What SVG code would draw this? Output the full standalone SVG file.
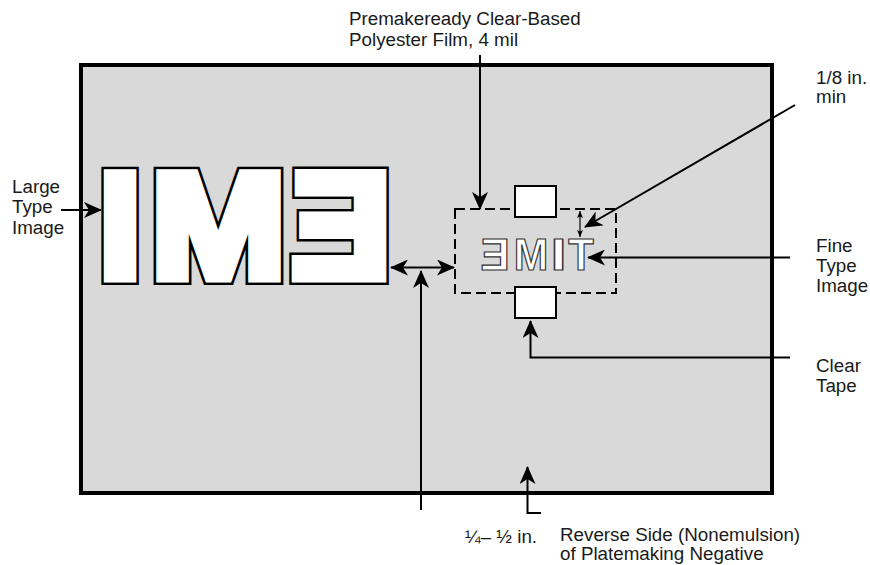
<svg xmlns="http://www.w3.org/2000/svg" width="870" height="565" viewBox="0 0 870 565">
  <style>
    .lbl { font-family: "Liberation Sans", Arial, sans-serif; font-size: 18.8px; fill: #1a1a1a; }
    .big { font-family: "Liberation Sans", Arial, sans-serif; font-weight: bold; font-size: 149px; text-anchor: middle; }
    .bigOut { fill: #000; stroke: #000; stroke-width: 16; stroke-linejoin: miter; }
    .bigIn { fill: #fff; stroke: #fff; stroke-width: 11; stroke-linejoin: miter; }
    .fine { font-family: "Liberation Sans", Arial, sans-serif; font-weight: bold; font-size: 44px; text-anchor: middle; fill: #fff; stroke: #333; stroke-width: 1.2; }
    .conn { fill: none; stroke: #000; stroke-width: 2; }
    .thin { fill: none; stroke: #000; stroke-width: 1.2; }
    .tape { fill: #fff; stroke: #000; stroke-width: 2; }
  </style>
  <defs>
    <marker id="ah" viewBox="0 -8 18 16" refX="17" refY="0" markerWidth="18" markerHeight="16" markerUnits="userSpaceOnUse" orient="auto-start-reverse">
      <path d="M0,-8 L18,0 L0,8 L5,0 Z" fill="#000"/>
    </marker>
    <marker id="ahs" viewBox="0 -3 7 6" refX="7" refY="0" markerWidth="7" markerHeight="6" markerUnits="userSpaceOnUse" orient="auto-start-reverse">
      <path d="M0,-3 L7,0 L0,3 L1.5,0 Z" fill="#000"/>
    </marker>
  </defs>

  <g id="negative">
    <rect x="81" y="65" width="691" height="428" fill="#d9d9d9" stroke="#000" stroke-width="4"/>
  </g>

  <g id="large-type">
    <text class="big bigOut" transform="translate(120,277) scale(-1,1)">I</text>
    <text class="big bigOut" transform="translate(218.5,277) scale(-1.08,1)">M</text>
    <text class="big bigOut" transform="translate(341,277) scale(-1,1)">E</text>
    <text class="big bigIn" transform="translate(120,277) scale(-1,1)">I</text>
    <text class="big bigIn" transform="translate(218.5,277) scale(-1.08,1)">M</text>
    <text class="big bigIn" transform="translate(341,277) scale(-1,1)">E</text>
  </g>

  <g id="polyester-film">
    <rect x="455" y="209" width="161" height="84" fill="none" stroke="#000" stroke-width="2" stroke-dasharray="10 5"/>
  </g>

  <g id="tape-top">
    <rect x="515" y="186" width="41" height="31" class="tape"/>
  </g>
  <g id="tape-bottom">
    <rect x="515" y="287" width="41" height="31" class="tape"/>
  </g>

  <g id="fine-type">
    <text class="fine" transform="translate(495,270) scale(-1,1)">E</text>
    <text class="fine" transform="translate(531,270) scale(-0.94,1)">M</text>
    <text class="fine" transform="translate(558.5,270) scale(-1.3,1)">I</text>
    <text class="fine" transform="translate(581,270) scale(-0.95,1)">T</text>
  </g>

  <g id="connectors">
    <path class="conn" d="M480,55 V209" marker-end="url(#ah)"/>
    <path class="conn" d="M61,210 H101" marker-end="url(#ah)"/>
    <path class="conn" d="M391,267.5 H454" marker-start="url(#ah)" marker-end="url(#ah)"/>
    <path class="conn" d="M421,510 V271" marker-end="url(#ah)"/>
    <path class="thin" d="M580,211 V237" marker-start="url(#ahs)" marker-end="url(#ahs)"/>
    <path class="conn" d="M795,105 L585,227" marker-end="url(#ah)"/>
    <path class="conn" d="M790,257.5 H588" marker-end="url(#ah)"/>
    <path class="conn" d="M790,357.5 H530.5 V321" marker-end="url(#ah)"/>
    <path class="conn" d="M541,513 H527.5 V467" marker-end="url(#ah)"/>
  </g>

  <g id="labels">
    <text class="lbl" x="349" y="25">Premakeready Clear-Based</text>
    <text class="lbl" x="349" y="46">Polyester Film, 4 mil</text>
    <text class="lbl" x="12" y="193">Large</text>
    <text class="lbl" x="12" y="213">Type</text>
    <text class="lbl" x="12" y="234">Image</text>
    <text class="lbl" x="816" y="84">1/8 in.</text>
    <text class="lbl" x="816" y="103">min</text>
    <text class="lbl" x="816" y="252">Fine</text>
    <text class="lbl" x="816" y="272">Type</text>
    <text class="lbl" x="816" y="292">Image</text>
    <text class="lbl" x="816" y="372">Clear</text>
    <text class="lbl" x="816" y="392">Tape</text>
    <text class="lbl" x="465" y="543">¼– ½ in.</text>
    <text class="lbl" x="560" y="541">Reverse Side (Nonemulsion)</text>
    <text class="lbl" x="560" y="560">of Platemaking Negative</text>
  </g>
</svg>
